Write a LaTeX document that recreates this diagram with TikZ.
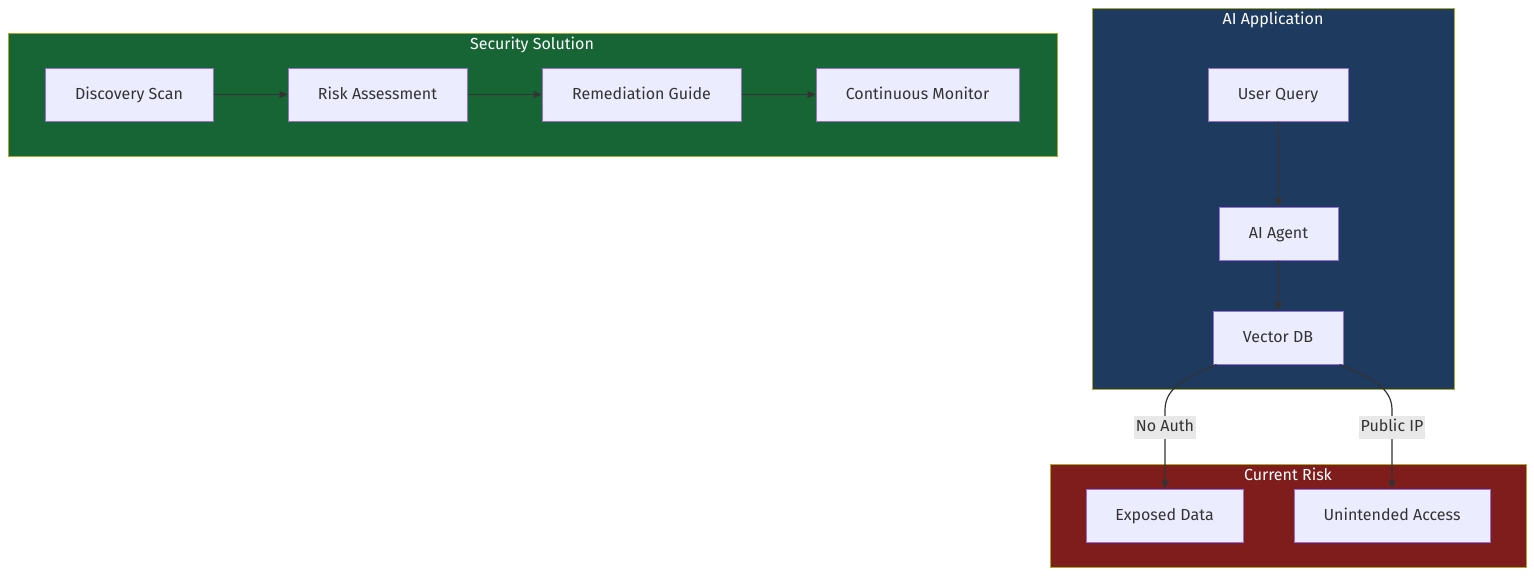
\documentclass[tikz,border=0pt]{standalone}
\usepackage{fontspec}
\setmainfont{Fira Sans}
\usetikzlibrary{arrows.meta}
\definecolor{nodefill}{HTML}{ECECFF}
\definecolor{nodeline}{HTML}{9370DB}
\definecolor{txt}{HTML}{333333}
\definecolor{green}{HTML}{176534}
\definecolor{navy}{HTML}{1F3A5F}
\definecolor{maroon}{HTML}{7F1D1D}
\definecolor{clline}{HTML}{AAAA33}
\definecolor{lblbg}{HTML}{E8E8E8}
\tikzset{
  box/.style={draw=nodeline, fill=nodefill, line width=1pt, text=txt, inner sep=0pt, text height=12pt, text depth=2.5pt, font=\fontsize{16}{19}\selectfont},
  cluster/.style={draw=clline, line width=1pt},
  ctitle/.style={text=white, font=\fontsize{16}{19}\selectfont, inner sep=0pt, text height=12pt, text depth=2.5pt},
  conn/.style={draw=txt, line width=1.2pt, -{Triangle[length=8pt,width=7pt]}},
  lbl/.style={fill=lblbg, text=txt, font=\fontsize{16}{19}\selectfont, inner xsep=2pt, inner ysep=4pt, text height=12pt, text depth=3pt},
}
\begin{document}
\begin{tikzpicture}[x=1pt,y=-1pt]
\useasboundingbox (0,0) rectangle (1534,576);
% clusters
\path[cluster, fill=green] (8,33) rectangle (1057,156);
\node[ctitle] (t1) at (532,44.5) {Security Solution};
\path[cluster, fill=navy] (1092,8) rectangle (1454,389);
\node[ctitle] (t2) at (1273,19.5) {AI Application};
\path[cluster, fill=maroon] (1050,464) rectangle (1526,567);
\node[ctitle] (t3) at (1288,475.5) {Current Risk};
% nodes
\node[box, minimum width=168pt, minimum height=53pt] (ds) at (129,94.5) {Discovery Scan};
\node[box, minimum width=179pt, minimum height=53pt] (ra) at (377.5,94.5) {Risk Assessment};
\node[box, minimum width=199pt, minimum height=53pt] (rg) at (641.5,94.5) {Remediation Guide};
\node[box, minimum width=203pt, minimum height=53pt] (cm) at (917.5,94.5) {Continuous Monitor};
\node[box, minimum width=140pt, minimum height=53pt] (uq) at (1278,94.5) {User Query};
\node[box, minimum width=119pt, minimum height=53pt] (ag) at (1278.5,233.5) {AI Agent};
\node[box, minimum width=130pt, minimum height=53pt] (vd) at (1278,337.5) {Vector DB};
\node[box, minimum width=157pt, minimum height=53pt] (ed) at (1164.5,515.5) {Exposed Data};
\node[box, minimum width=196pt, minimum height=53pt] (ua) at (1392,515.5) {Unintended Access};
% edges
\draw[conn] (ds) -- (ra);
\draw[conn] (ra) -- (rg);
\draw[conn] (rg) -- (cm);
\draw[conn] (uq) -- (ag);
\draw[conn] (ag) -- (vd);
\coordinate (c1) at (1165,410);
\coordinate (c2) at (1392,410);
\draw[conn] ([xshift=4pt]vd.south west) .. controls (1185,378) and (1165,388) .. (c1) -- (ed.north -| c1);
\draw[conn] ([xshift=-4pt]vd.south east) .. controls (1372,378) and (1392,388) .. (c2) -- (ua.north -| c2);
\node[lbl] (l1) at (1165,427) {No Auth};
\node[lbl] (l2) at (1392,427) {Public IP};
\end{tikzpicture}
\end{document}
